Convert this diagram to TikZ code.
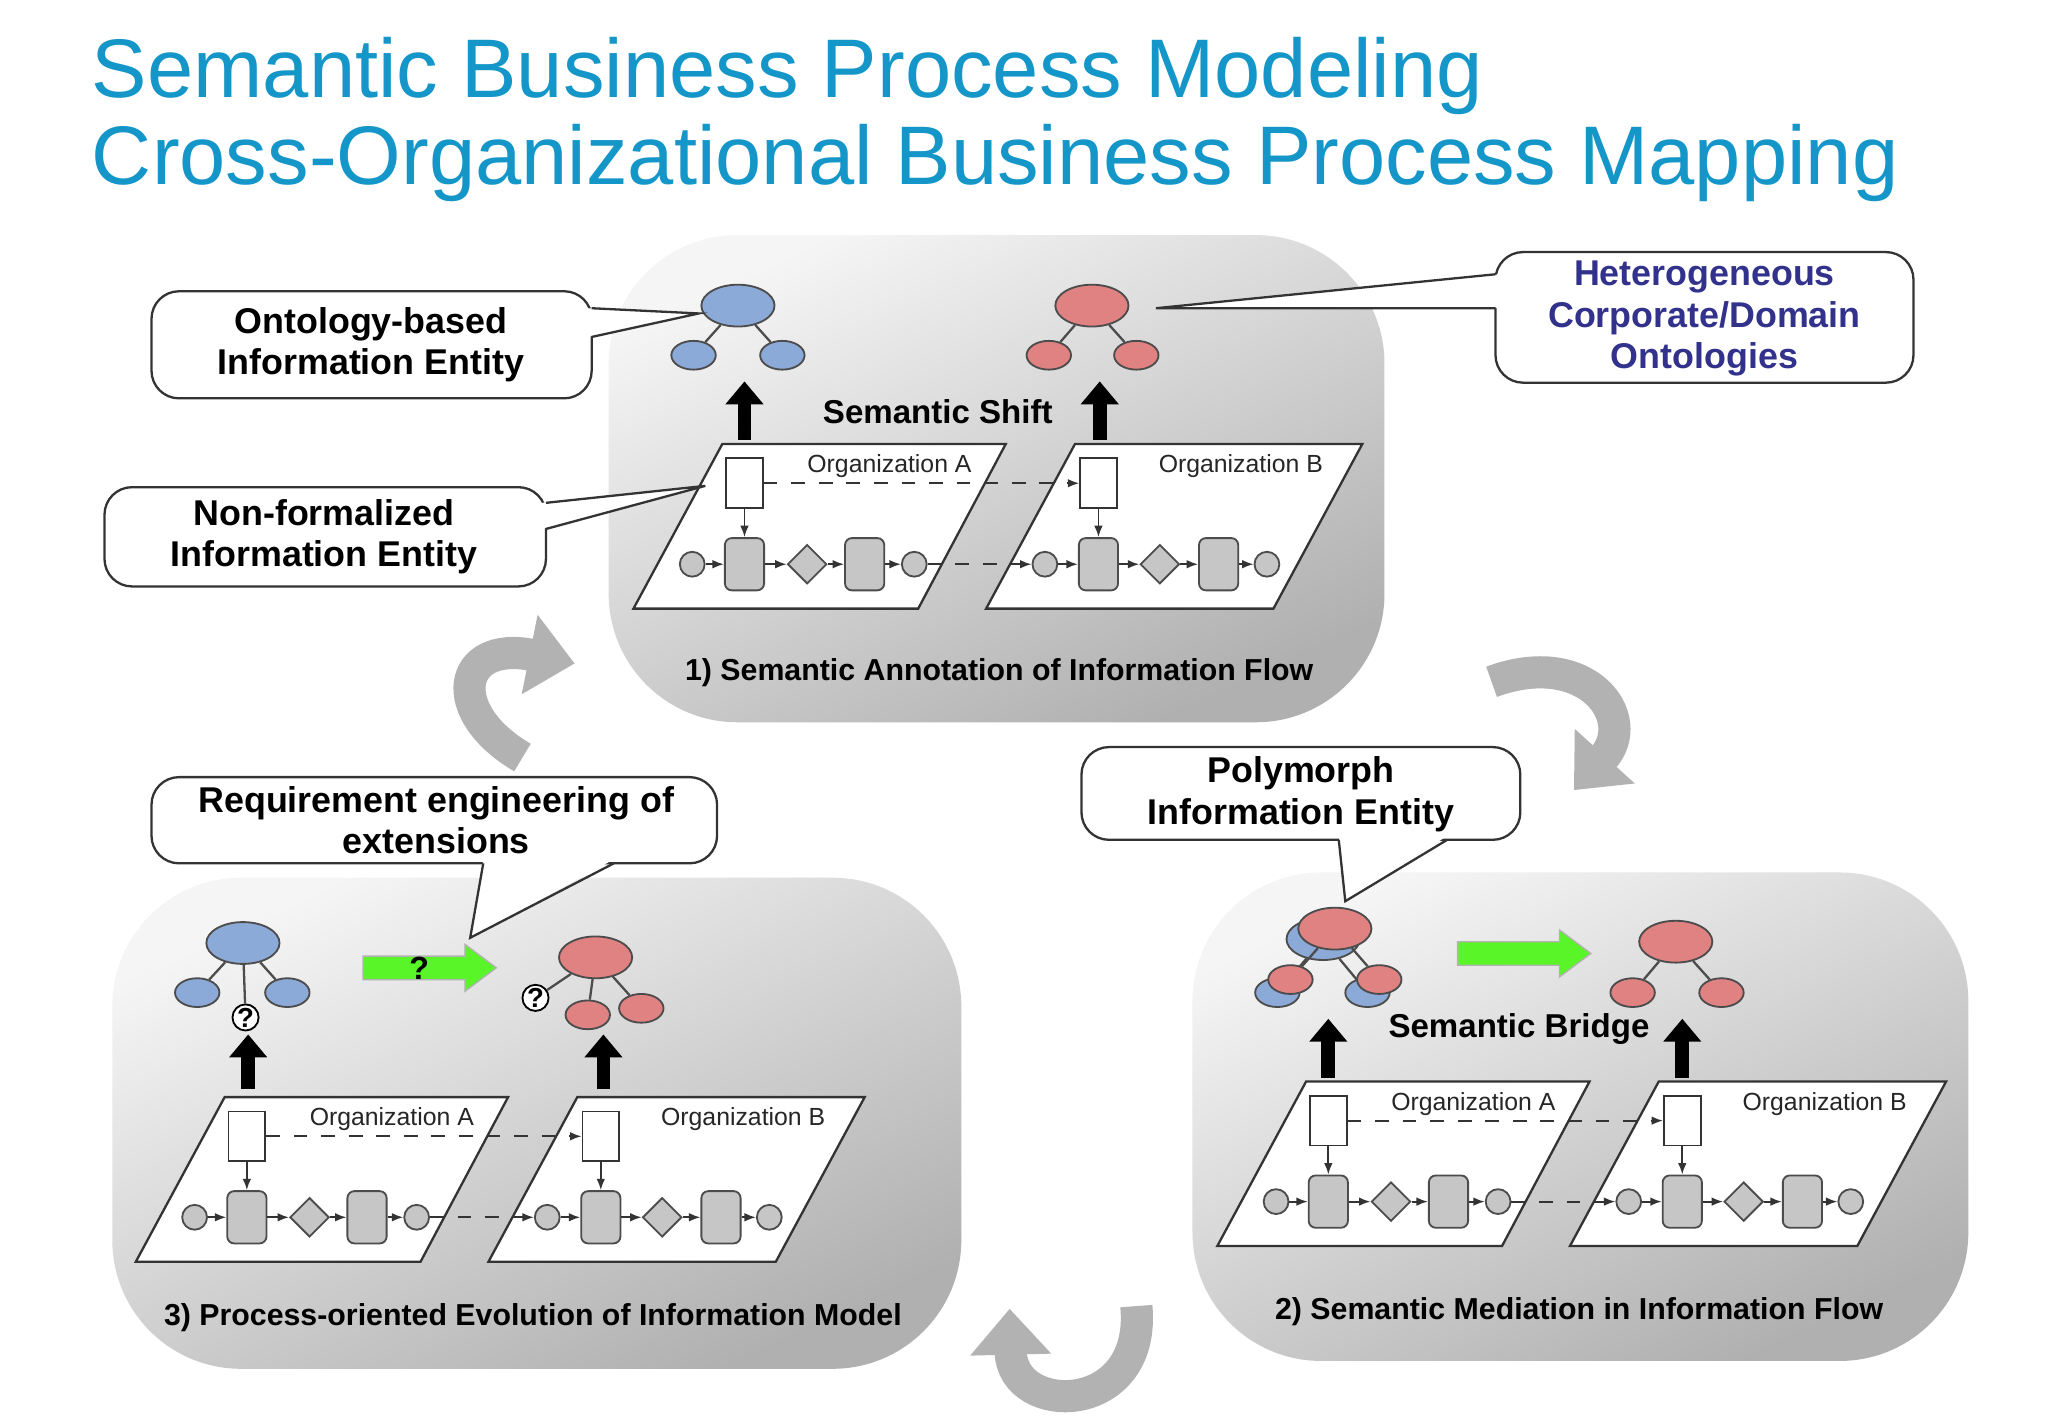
\documentclass[tikz,border=0pt]{standalone}
\usepackage{fontspec}
\setmainfont{Liberation Sans}
\usetikzlibrary{shapes.geometric,arrows.meta}
\definecolor{ttl}{RGB}{20,150,200}
\definecolor{blu}{RGB}{140,170,215}
\definecolor{rd}{RGB}{225,130,130}
\definecolor{hb}{RGB}{50,50,140}
\definecolor{gr}{RGB}{90,245,40}
\tikzset{
 x=0.01cm,y=-0.01cm,
 panel/.style={rounded corners=28pt,top color=gray!8,bottom color=gray!62,shading angle=25,draw=none},
 para/.style={draw=black!80,fill=white,line width=0.5pt},
 proc/.style={draw=black!70,fill=gray!45,rounded corners=1.5pt,minimum width=0.3cm,minimum height=0.4cm,inner sep=0pt},
 dia/.style={draw=black!70,fill=gray!45,diamond,minimum size=0.3cm,inner sep=0pt},
 ev/.style={draw=black!70,fill=gray!45,circle,minimum size=0.19cm,inner sep=0pt},
 doc/.style={draw=black!80,fill=white,minimum width=0.28cm,minimum height=0.38cm,inner sep=0pt},
 fl/.style={-{Latex[length=2.5pt]},black!80,line width=0.4pt},
 dfl/.style={fl,dashed},
 orgt/.style={font=\fontsize{5.4}{6}\selectfont,text=black!85},
 call/.style={draw=black!80,fill=white,rounded corners=6pt,line width=0.5pt},
 ptr/.style={draw=black!80,fill=white,line width=0.5pt},
 ctext/.style={font=\fontsize{7.8}{9}\selectfont\bfseries,align=center},
 captxt/.style={font=\fontsize{6.6}{8}\selectfont\bfseries},
 midtxt/.style={font=\fontsize{7.2}{8}\selectfont\bfseries},
 up/.style={-{Triangle[length=5pt,width=8pt]},line width=3pt,black},
 be/.style={ellipse,draw=black!70,fill=blu,minimum width=0.56cm,minimum height=0.32cm,inner sep=0pt},
 bc/.style={ellipse,draw=black!70,fill=blu,minimum width=0.34cm,minimum height=0.22cm,inner sep=0pt},
 re/.style={be,fill=rd},
 rc/.style={bc,fill=rd},
 tr/.style={black!70,line width=0.5pt},
 qm/.style={circle,draw=black,fill=white,minimum size=0.2cm,inner sep=0pt,font=\fontsize{6}{6}\selectfont\bfseries},
 garrow/.style={-{Triangle[length=10pt,width=17pt]},line width=7pt,gray!60},
 garr/.style={draw=black!30,fill=gr,line width=0.3pt},
}
\newcommand\procpair[3]{%
\begin{scope}[shift={(#1,#2)},name prefix=#3]
 \draw[para] (0,0)--(217,0)--(150,126)--(-68,126)--cycle;
 \draw[para] (270,0)--(490,0)--(422,126)--(202,126)--cycle;
 \node[orgt] (la) at (128,17) {Organization A};
 \node[orgt] (lb) at (397,17) {Organization B};
 \node[doc] (da) at (17,30) {};
 \node[doc] (db) at (288,30) {};
 \node[ev] (e1) at (-23,92) {};
 \node[proc] (p1) at (17,92) {};
 \node[dia] (g1) at (65,92) {};
 \node[proc] (p2) at (109,92) {};
 \node[ev] (e2) at (147,92) {};
 \node[ev] (e3) at (247,92) {};
 \node[proc] (p3) at (288,92) {};
 \node[dia] (g2) at (335,92) {};
 \node[proc] (p4) at (380,92) {};
 \node[ev] (e4) at (417,92) {};
 \draw[fl] (e1)--(p1); \draw[fl] (p1)--(g1); \draw[fl] (g1)--(p2); \draw[fl] (p2)--(e2);
 \draw[dfl] (e2)--(e3);
 \draw[fl] (e3)--(p3); \draw[fl] (p3)--(g2); \draw[fl] (g2)--(p4); \draw[fl] (p4)--(e4);
 \draw[fl] (da)--(p1); \draw[fl] (db)--(p3);
 \draw[dfl] (da)--(db);
\end{scope}}
% green arrow: #1,#2 = left-centre
\newcommand\grarrow[2]{%
 \draw[garr] (#1,#2-9)--(#1+78,#2-9)--(#1+78,#2-18)--(#1+102,#2)--(#1+78,#2+18)--(#1+78,#2+9)--(#1,#2+9)--cycle;}
\begin{document}
\begin{tikzpicture}
\useasboundingbox[fill=white] (0,0) rectangle (1568,1086);
\node[anchor=west,text=ttl,font=\fontsize{18.1}{20}\selectfont] (t1) at (58,58) {Semantic Business Process Modeling};
\node[anchor=west,text=ttl,font=\fontsize{18.1}{20}\selectfont] (t2) at (58,125) {Cross-Organizational Business Process Mapping};
% panels
\shade[panel] (466,180) rectangle (1060,553);
\shade[panel] (913,668) rectangle (1507,1042);
\shade[panel] (86,672) rectangle (736,1048);
% panel 1
\procpair{553}{340}{a}
\node[be] (b1) at (565,234) {}; \node[bc] (b2) at (531,272) {}; \node[bc] (b3) at (599,272) {};
\draw[tr] (b1)--(b2); \draw[tr] (b1)--(b3);
\node[re] (r1) at (836,234) {}; \node[rc] (r2) at (803,272) {}; \node[rc] (r3) at (870,272) {};
\draw[tr] (r1)--(r2); \draw[tr] (r1)--(r3);
\coordinate (u1s) at (570,337); \coordinate (u1e) at (570,292);
\coordinate (u2s) at (842,337); \coordinate (u2e) at (842,292);
\draw[up] (u1s)--(u1e); \draw[up] (u2s)--(u2e);
\node[midtxt] (ss) at (718,315) {Semantic Shift};
\node[captxt] (c1) at (765,515) {1) Semantic Annotation of Information Flow};
% panel 2
\procpair{1000}{828}{b}
\node[be] (pb1) at (1013,719) {}; \node[bc] (pb2) at (978,760) {}; \node[bc] (pb3) at (1047,760) {};
\draw[tr] (pb1)--(pb2); \draw[tr] (pb1)--(pb3);
\node[re] (pr1) at (1022,711) {}; \node[rc] (pr2) at (988,750) {}; \node[rc] (pr3) at (1056,750) {};
\draw[tr] (pr1)--(pr2); \draw[tr] (pr1)--(pr3);
\grarrow{1116}{730}
\node[re] (qr1) at (1283,721) {}; \node[rc] (qr2) at (1250,760) {}; \node[rc] (qr3) at (1318,760) {};
\draw[tr] (qr1)--(qr2); \draw[tr] (qr1)--(qr3);
\coordinate (u3s) at (1017,825); \coordinate (u3e) at (1017,780);
\coordinate (u4s) at (1288,825); \coordinate (u4e) at (1288,780);
\draw[up] (u3s)--(u3e); \draw[up] (u4s)--(u4e);
\node[midtxt] (sb) at (1163,788) {Semantic Bridge};
\node[captxt] (c2) at (1209,1004) {2) Semantic Mediation in Information Flow};
% panel 3
\procpair{172}{840}{c}
\node[be] (cb1) at (186,722) {}; \node[bc] (cb2) at (151,760) {}; \node[bc] (cb3) at (220,760) {};
\draw[tr] (cb1)--(cb2); \draw[tr] (cb1)--(cb3);
\node[qm] (q1) at (188,779) {?}; \draw[tr] (cb1)--(q1);
\grarrow{278}{741}
\node[font=\fontsize{7}{7}\selectfont\bfseries] (g3) at (321,741) {?};
\node[re] (cr1) at (456,733) {}; \node[rc] (cr2) at (450,777) {}; \node[rc] (cr3) at (491,772) {};
\node[qm] (q2) at (410,764) {?};
\draw[tr] (cr1)--(cr2); \draw[tr] (cr1)--(cr3); \draw[tr] (cr1)--(q2);
\coordinate (u5s) at (190,834); \coordinate (u5e) at (190,792);
\coordinate (u6s) at (462,834); \coordinate (u6e) at (462,792);
\draw[up] (u5s)--(u5e); \draw[up] (u6s)--(u6e);
\node[captxt] (c3) at (408,1009) {3) Process-oriented Evolution of Information Model};
% callouts
\draw[call] (116,223) rectangle (453,305);
\fill[white] (450,236)--(535,240)--(450,258)--cycle;
\draw[ptr,fill=none] (453,236)--(535,240)--(453,258);
\node[ctext] (k1) at (284,264) {Ontology-based\\Information Entity};
\draw[call] (80,373) rectangle (418,449);
\fill[white] (415,385)--(540,372)--(415,405)--cycle;
\draw[ptr,fill=none] (418,385)--(540,372)--(418,405);
\node[ctext] (k2) at (248,411) {Non-formalized\\Information Entity};
\draw[call] (1145,193) rectangle (1465,293);
\fill[white] (1148,210)--(885,236)--(1148,236)--cycle;
\draw[ptr,fill=none] (1145,210)--(885,236)--(1145,236);
\node[ctext,text=hb] (k3) at (1305,244) {Heterogeneous\\Corporate/Domain\\Ontologies};
\draw[call] (116,595) rectangle (549,661);
\fill[white] (370,658)--(360,718)--(470,658)--cycle;
\draw[ptr,fill=none] (370,661)--(360,718)--(470,661);
\node[ctext] (k4) at (334,628) {Requirement engineering of\\extensions};
\draw[call] (828,572) rectangle (1164,643);
\fill[white] (1025,640)--(1030,690)--(1108,640)--cycle;
\draw[ptr,fill=none] (1025,643)--(1030,690)--(1108,643);
\node[ctext] (k5) at (996,608) {Polymorph\\Information Entity};
% cycle arrows
\coordinate (a1s) at (400,580); \coordinate (a1e) at (440,508);
\draw[garrow] (a1s) .. controls (340,545) and (350,490) .. (a1e);
\coordinate (a2s) at (1142,522); \coordinate (a2e) at (1205,605);
\draw[garrow] (a2s) .. controls (1215,495) and (1255,550) .. (a2e);
\coordinate (a3s) at (870,1000); \coordinate (a3e) at (773,1002);
\draw[garrow] (a3s) .. controls (878,1085) and (775,1085) .. (a3e);
\end{tikzpicture}
\end{document}
